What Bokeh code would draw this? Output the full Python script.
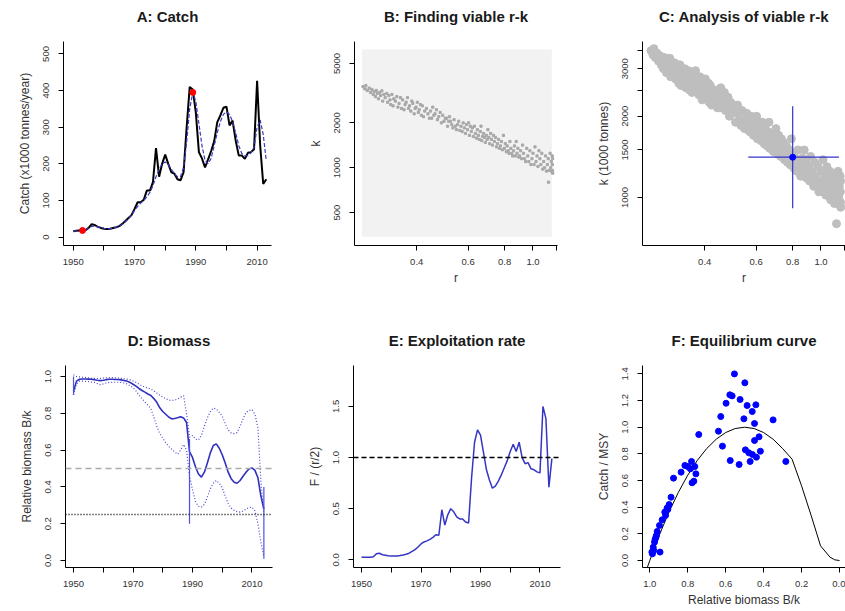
from bokeh.plotting import figure
from bokeh.layouts import column, row
from bokeh.models import Range1d, FixedTicker, CustomJSTickFormatter, PrintfTickFormatter, Span, Title
from bokeh.embed import file_html
from bokeh.resources import INLINE

# ---------------- data ----------------
catch_years = list(range(1950, 2014))
catch = [16, 17, 18, 18, 19, 25, 35, 33, 28, 25,
         23, 22, 23, 25, 27, 30, 36, 44, 52, 60,
         77, 95, 95, 102, 127, 127, 150, 243, 165, 200,
         225, 200, 177, 173, 158, 155, 177, 300, 410, 403,
         340, 232, 215, 190, 212, 235, 262, 314, 332, 353,
         356, 305, 318, 264, 223, 223, 214, 230, 232, 240,
         427, 250, 145, 158]
catch_smooth = [16, 17, 17, 18, 20, 25, 29, 30, 28, 26,
                24, 23, 23, 24, 27, 30, 35, 42, 50, 60,
                72, 84, 93, 100, 110, 122, 140, 165, 185, 200,
                205, 198, 185, 173, 165, 165, 190, 260, 350, 395,
                370, 310, 250, 210, 200, 215, 250, 285, 315, 335,
                342, 335, 315, 285, 250, 228, 222, 222, 230, 245,
                300, 320, 280, 208]
catch_mark_years = [1953, 1989]
catch_mark_values = [18, 395]

prior_r = [0.26, 1.16]
prior_k = [345, 6200]

viable_r = [0.262, 0.266, 0.268, 0.271, 0.275, 0.278, 0.281, 0.284, 0.286, 0.289,
            0.291, 0.293, 0.296, 0.299, 0.301, 0.304, 0.306, 0.309, 0.312, 0.316,
            0.318, 0.321, 0.324, 0.326, 0.329, 0.332, 0.334, 0.338, 0.342, 0.345,
            0.348, 0.352, 0.355, 0.358, 0.362, 0.365, 0.368, 0.372, 0.375, 0.378,
            0.382, 0.385, 0.388, 0.392, 0.395, 0.398, 0.402, 0.405, 0.408, 0.412,
            0.415, 0.418, 0.422, 0.426, 0.432, 0.437, 0.442, 0.446, 0.45, 0.454,
            0.458, 0.462, 0.467, 0.471, 0.476, 0.481, 0.486, 0.491, 0.496, 0.501,
            0.506, 0.51, 0.514, 0.518, 0.522, 0.527, 0.532, 0.537, 0.542, 0.547,
            0.552, 0.557, 0.562, 0.567, 0.572, 0.577, 0.582, 0.587, 0.592, 0.597,
            0.602, 0.606, 0.61, 0.615, 0.62, 0.625, 0.63, 0.635, 0.64, 0.645,
            0.65, 0.655, 0.66, 0.664, 0.668, 0.672, 0.677, 0.682, 0.687, 0.692,
            0.697, 0.701, 0.706, 0.711, 0.716, 0.721, 0.727, 0.732, 0.738, 0.744,
            0.75, 0.756, 0.762, 0.768, 0.774, 0.78, 0.786, 0.792, 0.798, 0.804,
            0.81, 0.816, 0.822, 0.828, 0.834, 0.84, 0.846, 0.852, 0.858, 0.864,
            0.87, 0.876, 0.882, 0.888, 0.894, 0.9, 0.907, 0.914, 0.921, 0.928,
            0.936, 0.944, 0.952, 0.96, 0.968, 0.976, 0.984, 0.992, 1.0, 1.008,
            1.016, 1.024, 1.032, 1.04, 1.048, 1.056, 1.064, 1.072, 1.08, 1.088,
            1.096, 1.104, 1.112, 1.12, 1.128, 1.136, 1.144, 1.15, 1.155, 1.16,
            1.163, 1.165, 1.166, 1.167, 1.168, 1.13]
viable_k = [3500, 3380, 3560, 3300, 3420, 3200, 3350, 3100, 3250, 3000,
            3300, 3150, 2900, 3200, 3050, 3280, 2800, 3100, 2950, 3150,
            2750, 3050, 2850, 2650, 3100, 2600, 2900, 2800, 3000, 2550,
            2700, 2950, 2500, 2850, 2450, 2650, 2750, 2950, 2500, 2600,
            2400, 2800, 2700, 2300, 2500, 2550, 2750, 2350, 2450, 2650,
            2250, 2600, 2200, 2400, 2500, 2300, 2150, 2400, 2150, 2550,
            2250, 2300, 2450, 2100, 2200, 2350, 2000, 2250, 2050, 2150,
            2150, 1900, 2050, 2200, 2050, 1950, 1850, 2100, 1900, 1800,
            1950, 2050, 1780, 1900, 1750, 2000, 1850, 1700, 1950, 1800,
            2000, 1650, 1900, 1750, 1850, 1620, 1900, 1700, 1580, 1800,
            1650, 1550, 1750, 1900, 1520, 1620, 1700, 1600, 1480, 1650,
            1550, 1800, 1600, 1450, 1700, 1550, 1420, 1650, 1500, 1600,
            1380, 1450, 1550, 1350, 1400, 1500, 1320, 1650, 1350, 1450,
            1280, 1400, 1300, 1250, 1500, 1350, 1250, 1200, 1300, 1400,
            1200, 1500, 1250, 1350, 1180, 1200, 1300, 1150, 1420, 1250,
            1150, 1100, 1350, 1200, 1100, 1300, 1050, 1150, 1250, 1050,
            1380, 1100, 1200, 1020, 1300, 1150, 1050, 1250, 980, 1100,
            1000, 1200, 950, 1050, 1150, 960, 1250, 1000, 1100, 940,
            1200, 1050, 960, 1150, 920, 800]

r_median, r_low, r_high = 0.80, 0.564, 1.152
k_median, k_low, k_high = 1410, 913, 2178

bio_years = list(range(1950, 2015))
bio_mid = [0.92, 0.975, 0.985, 0.987, 0.987, 0.986, 0.985, 0.983, 0.980, 0.978,
           0.980, 0.983, 0.985, 0.985, 0.984, 0.984, 0.982, 0.978, 0.975, 0.968,
           0.958, 0.948, 0.935, 0.924, 0.915, 0.905, 0.897, 0.88, 0.86, 0.83,
           0.81, 0.795, 0.78, 0.77, 0.772, 0.776, 0.782, 0.775, 0.75, 0.59,
           0.56, 0.51, 0.47, 0.453, 0.48, 0.53, 0.585, 0.625, 0.634, 0.61,
           0.575, 0.53, 0.48, 0.445, 0.425, 0.42, 0.435, 0.458, 0.48, 0.498,
           0.503, 0.49, 0.45, 0.35, 0.28]
bio_high = [1.01, 1.0, 0.998, 0.996, 0.995, 0.993, 0.99, 0.99, 0.99, 0.99,
            0.992, 0.993, 0.994, 0.994, 0.993, 0.992, 0.99, 0.988, 0.986, 0.982,
            0.976, 0.968, 0.958, 0.95, 0.943, 0.937, 0.932, 0.922, 0.91, 0.898,
            0.888, 0.88, 0.872, 0.87, 0.872, 0.878, 0.888, 0.896, 0.80, 0.67,
            0.68, 0.66, 0.655, 0.68, 0.73, 0.775, 0.81, 0.828, 0.824, 0.805,
            0.785, 0.745, 0.71, 0.693, 0.69, 0.695, 0.73, 0.77, 0.805, 0.815,
            0.82, 0.795, 0.72, 0.43, 0.26]
bio_low = [0.90, 0.96, 0.975, 0.975, 0.973, 0.972, 0.97, 0.968, 0.962, 0.956,
           0.96, 0.965, 0.968, 0.969, 0.969, 0.969, 0.968, 0.965, 0.96, 0.95,
           0.94, 0.922, 0.90, 0.88, 0.862, 0.845, 0.824, 0.78, 0.73, 0.69,
           0.665, 0.64, 0.62, 0.605, 0.59, 0.578, 0.60, 0.63, 0.60, 0.46,
           0.385, 0.32, 0.295, 0.29, 0.305, 0.345, 0.39, 0.42, 0.435, 0.42,
           0.395, 0.35, 0.31, 0.285, 0.272, 0.266, 0.263, 0.268, 0.28, 0.288,
           0.29, 0.27, 0.2, 0.1, 0.02]
prior_bio_years = [1950, 1989, 2014]
prior_bio_low = [0.90, 0.20, 0.01]
prior_bio_high = [1.00, 0.66, 0.40]
bio_ref_half = 0.5
bio_ref_quarter = 0.25

f_rel = [0.025, 0.025, 0.025, 0.025, 0.03, 0.06, 0.065, 0.05, 0.045, 0.04,
         0.038, 0.037, 0.037, 0.042, 0.048, 0.055, 0.065, 0.082, 0.10, 0.125,
         0.155, 0.175, 0.185, 0.20, 0.22, 0.245, 0.24, 0.49, 0.34, 0.44,
         0.50, 0.47, 0.42, 0.40, 0.40, 0.37, 0.36, 0.80, 1.15, 1.27,
         1.22, 1.05, 0.88, 0.78, 0.70, 0.72, 0.77, 0.83, 0.90, 0.97,
         1.06, 1.13, 1.06, 1.15, 1.00, 0.94, 0.95, 0.89, 0.88, 0.86,
         0.85, 1.50, 1.38, 0.71, 0.99]
f_ref = 1.0

eq_b = [1.02, 1.0, 0.95, 0.9, 0.85, 0.8, 0.75, 0.7, 0.65, 0.6, 0.55, 0.5,
        0.45, 0.4, 0.35, 0.3, 0.25, 0.2, 0.15, 0.1, 0.05, 0.025, 0.0]
eq_c = [-0.08, 0.0, 0.19, 0.36, 0.51, 0.64, 0.75, 0.84, 0.91, 0.96, 0.99, 1.0,
        0.99, 0.96, 0.91, 0.84, 0.76, 0.56, 0.34, 0.11, 0.025, 0.005, 0.0]
obs_b = [0.554, 0.499, 0.578, 0.566, 0.524, 0.598, 0.487, 0.441, 0.460, 0.626,
         0.504, 0.350, 0.448, 0.638, 0.742, 0.424, 0.448, 0.617, 0.496, 0.478,
         0.459, 0.417, 0.438, 0.576, 0.471, 0.283, 0.529, 0.780, 0.815, 0.800,
         0.786, 0.763, 0.757, 0.835, 0.768, 0.777, 0.875, 0.888, 0.898, 0.909,
         0.921, 0.935, 0.949, 0.961, 0.968, 0.975, 0.982, 0.989, 0.946, 0.979,
         0.986, 0.917, 0.905, 0.965, 0.972]
obs_c = [1.40, 1.333, 1.243, 1.235, 1.208, 1.18, 1.163, 1.168, 1.118, 1.08,
         1.063, 1.055, 1.028, 0.97, 0.945, 0.928, 0.9, 0.858, 0.83, 0.808,
         0.795, 0.82, 0.775, 0.75, 0.743, 0.743, 0.72, 0.743, 0.713, 0.705,
         0.688, 0.705, 0.65, 0.663, 0.595, 0.583, 0.618, 0.475, 0.42, 0.393,
         0.363, 0.305, 0.263, 0.218, 0.175, 0.138, 0.10, 0.063, 0.063, 0.075,
         0.05, 0.338, 0.383, 0.188, 0.158]

year_ticks = [1950, 1960, 1970, 1980, 1990, 2000, 2010]
r_ticks = [0.4, 0.6, 0.8, 1.0, 1.2]

# ---------------- styling helpers ----------------
FONT = "Liberation Sans"
YEAR_FMT = CustomJSTickFormatter(code="var t = Math.round(tick); return (t % 20 == 0) ? '' : String(t);")
R_FMT = CustomJSTickFormatter(code="return tick > 1.1 ? '' : tick.toFixed(1);")


def make_fig(w, h, left, right, top, bottom, xr, yr, title, xlabel=None, ylabel=None,
             x_type="linear", y_type="linear"):
    p = figure(width=w, height=h, x_range=xr, y_range=yr, x_axis_type=x_type, y_axis_type=y_type,
               output_backend="svg", toolbar_location=None, title=title,
               min_border_left=left, min_border_right=right,
               min_border_top=top, min_border_bottom=bottom)
    p.outline_line_color = None
    p.grid.visible = False
    p.title.align = "center"
    p.title.vertical_align = "bottom"
    p.title.text_font = FONT
    p.title.text_font_size = "15px"
    p.title.text_font_style = "bold"
    p.title.text_color = "#1a1a1a"
    p.title.standoff = 0
    # thin empty spacer between the title and the plotting area
    p.add_layout(Title(text=" ", text_font_size="1px", standoff=14), "above")
    for ax in (p.xaxis[0], p.yaxis[0]):
        ax.axis_line_color = "black"
        ax.major_tick_line_color = "black"
        ax.major_tick_out = 5
        ax.major_tick_in = 0
        ax.minor_tick_line_color = None
        ax.major_label_text_font = FONT
        ax.major_label_text_font_size = "9.5px"
        ax.major_label_text_color = "#333333"
        ax.axis_label_text_font = FONT
        ax.axis_label_text_font_size = "12px"
        ax.axis_label_text_font_style = "normal"
        ax.axis_label_text_color = "#333333"
    p.xaxis.major_label_standoff = 8
    p.yaxis.major_label_standoff = 9
    p.yaxis.major_label_orientation = "vertical"
    if xlabel:
        p.xaxis.axis_label = xlabel
        p.xaxis.axis_label_standoff = 3
    if ylabel:
        p.yaxis.axis_label = ylabel
        p.yaxis.axis_label_standoff = 9
    return p


# ---------------- A: Catch ----------------
pa = make_fig(282, 324, 63, 11, 41, 79, Range1d(1946.8, 2014.7), Range1d(-23, 534),
              "A: Catch", ylabel="Catch (x1000 tonnes/year)")
pa.xaxis.ticker = FixedTicker(ticks=year_ticks)
pa.xaxis.formatter = YEAR_FMT
pa.yaxis.ticker = FixedTicker(ticks=[0, 100, 200, 300, 400, 500])
pa.line(catch_years, catch, line_color="black", line_width=2)
pa.line(catch_years, catch_smooth, line_color="#3a3ac0", line_width=1.2, line_dash="4 2")
pa.scatter(catch_mark_years, catch_mark_values, size=6, color="red")

# ---------------- B: Finding viable r-k ----------------
pb = make_fig(281, 324, 72, 6, 41, 79, Range1d(0.245, 1.213), Range1d(301, 7027),
              "B: Finding viable r-k", xlabel="r", ylabel="k", x_type="log", y_type="log")
pb.xaxis.ticker = FixedTicker(ticks=r_ticks)
pb.xaxis.formatter = R_FMT
pb.yaxis.ticker = FixedTicker(ticks=[500, 1000, 2000, 5000])
pb.yaxis.formatter = PrintfTickFormatter(format="%d")
pb.quad(left=[prior_r[0]], right=[prior_r[1]], bottom=[prior_k[0]], top=[prior_k[1]],
        fill_color="#f2f2f2", line_color=None)
pb.scatter(viable_r, viable_k, size=2.2, marker="square", color="#a8a8a8")

# ---------------- C: Analysis of viable r-k ----------------
pc = make_fig(282, 324, 79, 0, 41, 79, Range1d(0.245, 1.213), Range1d(664, 3784),
              "C: Analysis of viable r-k", xlabel="r", ylabel="k (1000 tonnes)",
              x_type="log", y_type="log")
pc.xaxis.ticker = FixedTicker(ticks=r_ticks)
pc.xaxis.formatter = R_FMT
pc.yaxis.ticker = FixedTicker(ticks=[1000, 1500, 2000, 2500, 3000, 3500])
pc.yaxis.formatter = CustomJSTickFormatter(
    code="return (tick == 2500 || tick == 3500) ? '' : String(Math.round(tick));")
pc.scatter(viable_r, viable_k, size=8, color="#bebebe")
pc.segment(x0=[r_low], y0=[k_median], x1=[r_high], y1=[k_median], line_color="#3333cc", line_width=1.2)
pc.segment(x0=[r_median], y0=[k_low], x1=[r_median], y1=[k_high], line_color="#3333cc", line_width=1.2)
pc.scatter([r_median], [k_median], size=6, color="blue")

# ---------------- D: Biomass ----------------
pd_ = make_fig(282, 287, 65, 10, 41, 44, Range1d(1947.3, 2016.9), Range1d(-0.038, 1.06),
               "D: Biomass", ylabel="Relative biomass B/k")
pd_.xaxis.ticker = FixedTicker(ticks=year_ticks)
pd_.xaxis.formatter = YEAR_FMT
pd_.yaxis.ticker = FixedTicker(ticks=[0, 0.2, 0.4, 0.6, 0.8, 1.0])
pd_.yaxis.formatter = PrintfTickFormatter(format="%.1f")
pd_.add_layout(Span(location=bio_ref_half, dimension="width", line_color="#aaaaaa",
                    line_dash="6 4", line_width=1.5))
pd_.add_layout(Span(location=bio_ref_quarter, dimension="width", line_color="black",
                    line_dash="1 2", line_width=1.5))
pd_.line(bio_years, bio_high, line_color="#4848d0", line_width=1.2, line_dash="1 2")
pd_.line(bio_years, bio_low, line_color="#4848d0", line_width=1.2, line_dash="1 2")
pd_.line(bio_years, bio_mid, line_color="#3030c0", line_width=1.6)
pd_.segment(x0=prior_bio_years, y0=prior_bio_low, x1=prior_bio_years, y1=prior_bio_high,
            line_color="#5050e0", line_width=1.2)

# ---------------- E: Exploitation rate ----------------
pe = make_fig(281, 287, 71, 3, 41, 44, Range1d(1947.3, 2016.9), Range1d(-0.075, 1.90),
              "E: Exploitation rate", ylabel="F / (r/2)")
pe.xaxis.ticker = FixedTicker(ticks=year_ticks)
pe.xaxis.formatter = YEAR_FMT
pe.yaxis.ticker = FixedTicker(ticks=[0, 0.5, 1.0, 1.5])
pe.yaxis.formatter = PrintfTickFormatter(format="%.1f")
pe.add_layout(Span(location=f_ref, dimension="width", line_color="black",
                   line_dash="5 3", line_width=1.5))
pe.line(bio_years, f_rel, line_color="#3535c5", line_width=1.5)

# ---------------- F: Equilibrium curve ----------------
pf = make_fig(282, 287, 79, 0, 41, 44, Range1d(1.0385, -0.0316), Range1d(-0.0525, 1.463),
              "F: Equilibrium curve", xlabel="Relative biomass B/k", ylabel="Catch / MSY")
pf.xaxis.ticker = FixedTicker(ticks=[0, 0.2, 0.4, 0.6, 0.8, 1.0])
pf.xaxis.formatter = PrintfTickFormatter(format="%.1f")
pf.yaxis.ticker = FixedTicker(ticks=[0, 0.2, 0.4, 0.6, 0.8, 1.0, 1.2, 1.4])
pf.yaxis.formatter = PrintfTickFormatter(format="%.1f")
pf.line(eq_b, eq_c, line_color="black", line_width=1)
pf.scatter(obs_b, obs_c, size=6, color="blue")

layout = column(row(pa, pb, pc), row(pd_, pe, pf))

with open("out.html", "w") as f:
    f.write(file_html(layout, INLINE))
